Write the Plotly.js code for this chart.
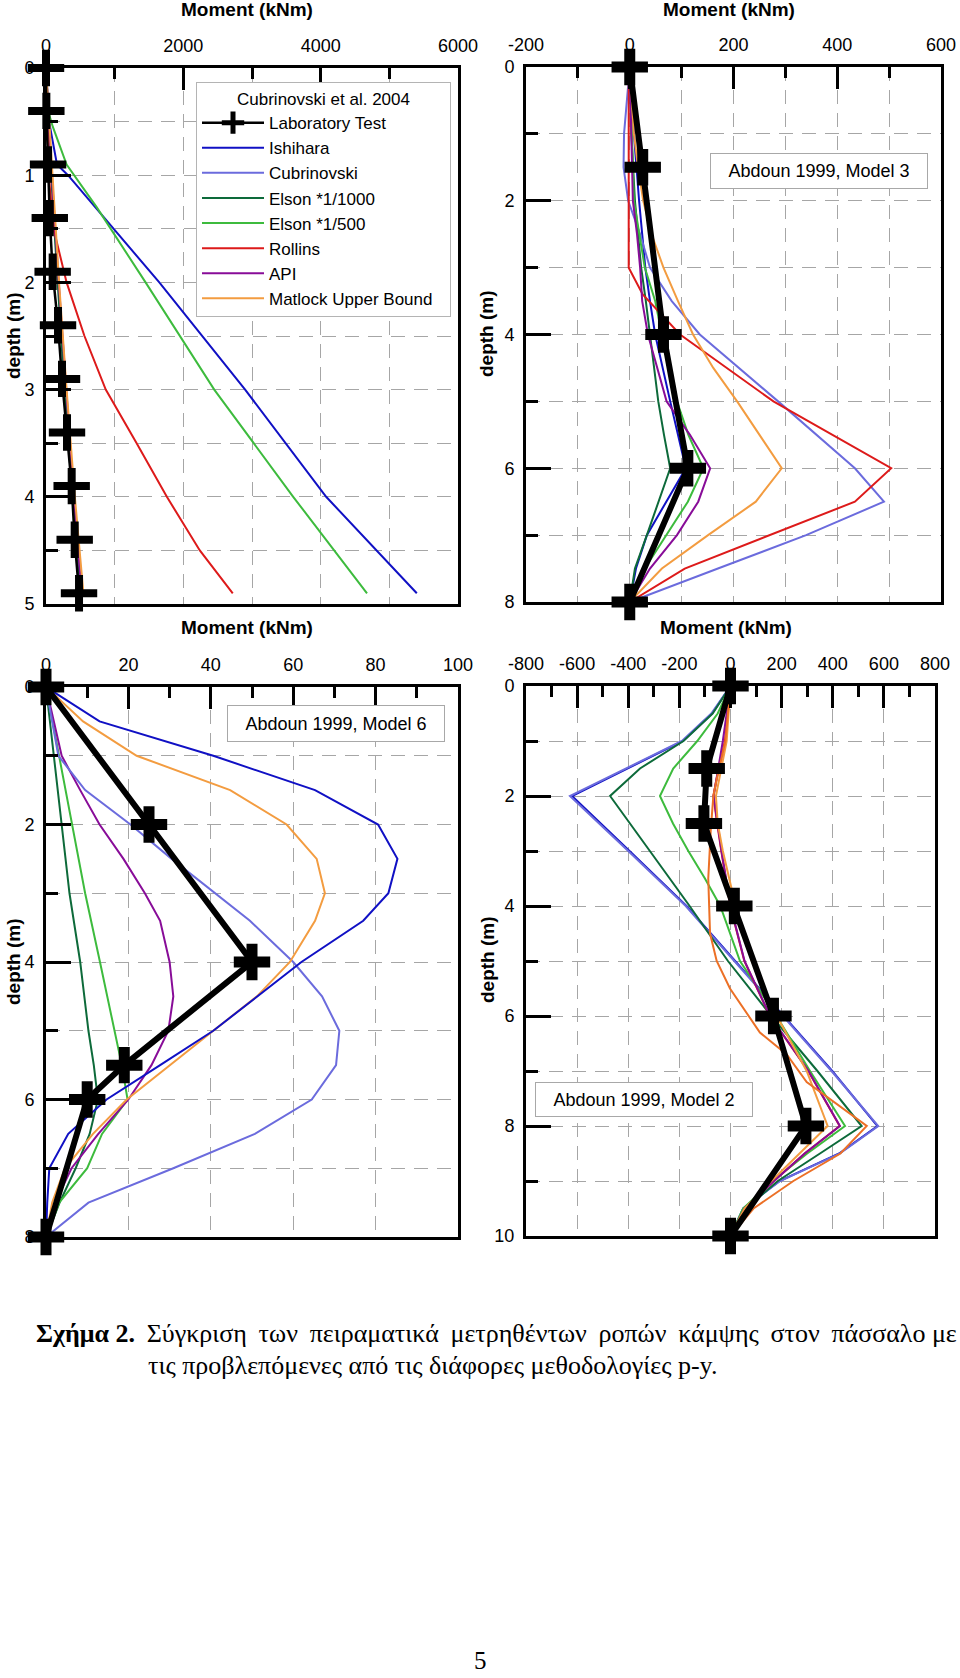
<!DOCTYPE html>
<html>
<head>
<meta charset="utf-8">
<script src="https://cdn.plot.ly/plotly-3.0.1.min.js"></script>
<style>html,body{margin:0;padding:0;background:#fff;}#chart{width:960px;height:1678px;}</style>
</head>
<body>
<div id="chart"></div>
<script>
// ---------------- DATA ----------------
const seriesNames = ["Laboratory Test","Ishihara","Cubrinovski","Elson *1/1000","Elson *1/500","Rollins","API","Matlock Upper Bound"];
const panelTitles = ["Cubrinovski et al. 2004","Abdoun 1999, Model 3","Abdoun 1999, Model 6","Abdoun 1999, Model 2"];

// Panel 1 : Cubrinovski et al. 2004  (depth m, moment kNm)
const p1LabDepth  = [0,0.4,0.9,1.4,1.9,2.4,2.9,3.4,3.9,4.4,4.9];
const p1LabMom    = [0,5,30,55,97,175,233,306,374,418,481];
const p1IshDepth  = [0,0.5,0.9,1.0,2.0,3.0,4.0,4.9];
const p1IshMom    = [0,45,160,320,1650,2900,4080,5400];
const p1CubDepth  = [0,1,2,3,4,4.9];
const p1CubMom    = [0,80,180,285,395,505];
const p1E1000Depth= [0,1,2,3,4,4.9];
const p1E1000Mom  = [0,75,170,270,385,495];
const p1E500Depth = [0,0.4,0.55,0.9,1.3,2.0,3.0,4.0,4.9];
const p1E500Mom   = [0,30,100,300,740,1450,2450,3600,4675];
const p1RolDepth  = [0,1.0,1.5,2.0,2.5,3.0,3.5,4.0,4.5,4.9];
const p1RolMom    = [0,40,110,300,560,870,1320,1760,2240,2720];
const p1ApiDepth  = [0,1,2,3,4,4.9];
const p1ApiMom    = [0,85,185,290,405,520];
const p1MatDepth  = [0,1,2,3,4,4.9];
const p1MatMom    = [0,90,190,300,420,545];

// Panel 2 : Abdoun 1999, Model 3
const p2LabDepth  = [0,1.5,4,6,8];
const p2LabMom    = [0,25,65,112,0];
const p2IshDepth  = [0,1,2,3,3.5,4,5,6,7,7.5,8];
const p2IshMom    = [0,8,18,30,39,49,78,108,33,12,0];
const p2CubDepth  = [0,1,1.5,2,2.5,3,3.5,4,5,6,6.5,7,7.5,8];
const p2CubMom    = [0,-11,-12,-3,20,39,81,135,286,434,490,340,170,0];
const p2E1000Depth= [0,1,2,3,3.5,4,5,5.5,6,7,7.5,8];
const p2E1000Mom  = [0,3,10,22,31,39,55,66,78,33,10,0];
const p2E500Depth = [0,1,2,3,3.5,4,5,5.5,6,6.5,7,7.5,8];
const p2E500Mom   = [0,4,8,29,49,62,91,113,142,112,71,29,0];
const p2RolDepth  = [0,3,3.4,4,5,6,6.5,7.5,8];
const p2RolMom    = [-2,-2,25,97,277,504,434,106,0];
const p2ApiDepth  = [0,1,2,2.5,3,3.5,4,5,5.5,6,6.5,7,7.5,8];
const p2ApiMom    = [0,3,6,14,20,24,35,71,116,155,132,91,39,0];
const p2MatDepth  = [0,1,1.5,2,2.5,3,3.5,4,4.5,5,6,6.5,7,7.5,8];
const p2MatMom    = [0,8,16,26,42,65,93,122,161,207,293,243,151,62,0];

// Panel 3 : Abdoun 1999, Model 6
const p3LabDepth  = [0,2,4,5.5,6,8];
const p3LabMom    = [0,25,50,19,10,0];
const p3IshDepth  = [0,0.5,1,1.5,2,2.5,3,3.4,4,5,5.5,6,6.5,7,7.5,8];
const p3IshMom    = [0,13,40.6,65.3,80.6,85.3,83.1,77,62,40.6,27.7,14.7,5.4,0.8,0.3,0];
const p3CubDepth  = [0,1,1.5,2,2.5,3,3.4,4,4.5,5,5.5,6,6.5,7,7.5,8];
const p3CubMom    = [0,3,9.5,20.5,30.5,41,49.5,60,67,71.2,70.4,64.5,50.7,30.9,10.3,0];
const p3E1000Depth= [0,1,2,3,4,5,5.5,6,6.5,7,7.5,8];
const p3E1000Mom  = [0,1.9,3.8,5.7,8.3,10.3,11.6,12.6,10.6,7.2,3.3,0];
const p3E500Depth = [0,1,2,3,4,5,5.5,6,6.5,7,7.5,8];
const p3E500Mom   = [0,3.2,6.3,9.5,13.1,16.7,18.4,19.8,13.6,10,3.2,0];
const p3ApiDepth  = [0,1,1.5,2,2.5,3,3.4,4,4.5,5,5.5,6,6.5,7,7.5,8];
const p3ApiMom    = [0,3.8,8.3,13,18.8,24,27.7,30,30.9,29.7,25.6,20,12.7,6.2,2.2,0];
const p3MatDepth  = [0,0.5,1,1.5,2,2.5,3,3.4,4,4.5,5,5.5,6,6.5,7,7.5,8];
const p3MatMom    = [0,9,22,44.7,58.4,65.7,67.7,65.3,59.2,51.2,40.6,30,19.6,11.4,4.6,1.5,0];

// Panel 4 : Abdoun 1999, Model 2
const p4LabDepth  = [0,1.5,2.5,4,6,8,10];
const p4LabMom    = [0,-93,-104,15,168,295,0];
const p4IshDepth  = [0,0.5,1,2,3,4,5,6,7,8,8.5,9,9.5,10];
const p4IshMom    = [0,-72,-186,-620,-395,-172,18,208,398,575,425,192,50,0];
const p4CubDepth  = [0,0.5,1,2,3,4,5,6,7,8,8.5,9,9.5,10];
const p4CubMom    = [0,-75,-190,-628,-400,-175,15,205,395,578,428,194,50,0];
const p4E1000Depth= [0,0.5,1,1.5,2,3,4,5,6,7,8,8.5,9,9.5,10];
const p4E1000Mom  = [0,-70,-184,-354,-471,-315,-160,-10,160,340,513,350,185,60,0];
const p4E500Depth = [0,0.5,1,1.5,2,2.5,3,3.5,4,5,6,7,8,8.5,9,9.5,10];
const p4E500Mom   = [0,-50,-130,-224,-276,-225,-165,-100,-40,37,180,311,448,300,165,49,0];
const p4RolDepth  = [0,1,1.7,2,2.5,3,4,5,6,7,8,8.5,9,9.5,10];
const p4RolMom    = [0,-22,-55,-67,-52,-36,-1,54,154,304,427,290,170,55,0];
const p4ApiDepth  = [0,1,2,2.5,3,4,5,6,7,8,8.5,9,9.5,10];
const p4ApiMom    = [0,-30,-66,-50,-35,0,55,155,305,428,290,170,55,0];
const p4MatDepth  = [0,1,2,2.5,3,4,5,6,7,8,8.5,9,9.5,10];
const p4MatMom    = [0,-15,-57,-50,-30,20,83,181,298,380,270,160,55,0];
const p4OrangeDepth=[0,1,1.7,2,2.6,3.5,4.5,5,5.5,6,6.3,6.7,7.2,8,8.5,9,9.5,10];
const p4OrangeMom = [0,-20,-54,-67,-77,-87,-80,-54,-2,70,115,220,298,533,430,246,90,0];

// Axis ticks
const p1XTicks = [0,2000,4000,6000];
const p1YTicks = [0,1,2,3,4,5];
const p2XTicks = [-200,0,200,400,600];
const p2YTicks = [0,2,4,6,8];
const p3XTicks = [0,20,40,60,80,100];
const p3YTicks = [0,2,4,6,8];
const p4XTicks = [-800,-600,-400,-200,0,200,400,600,800];
const p4YTicks = [0,2,4,6,8,10];

// Caption text
const captionBold  = "Σχήμα 2.";
const captionLine1 = "Σύγκριση των πειραματικά μετρηθέντων ροπών κάμψης στον πάσσαλο με";
const captionLine2 = "τις προβλεπόμενες από τις διάφορες μεθοδολογίες p-y.";
const pageNumber = "5";

// ---------------- STYLE ----------------
const W = 960, H = 1678;
const fx = p => p / W;
const fy = p => 1 - p / H;
const SANS = 'Liberation Sans, Arial, sans-serif';
const SERIF = 'Liberation Serif, Times New Roman, serif';
const colors = {
  "Ishihara":"#1010C4","Cubrinovski":"#6B6BDD","Elson *1/1000":"#0D6A3A","Elson *1/500":"#3DBB3D",
  "Rollins":"#DD1A1A","API":"#880C98","Matlock Upper Bound":"#F39C40"
};
const GRID = '#A6A6A6';

const panels = [
  {xa:'x', ya:'y', labW:2.5, crossW:8,
   lab:[p1LabDepth,p1LabMom],
   curves:[["Ishihara",p1IshDepth,p1IshMom],["Cubrinovski",p1CubDepth,p1CubMom],["Elson *1/1000",p1E1000Depth,p1E1000Mom],
           ["Elson *1/500",p1E500Depth,p1E500Mom],["Rollins",p1RolDepth,p1RolMom],["API",p1ApiDepth,p1ApiMom],["Matlock Upper Bound",p1MatDepth,p1MatMom]]},
  {xa:'x2', ya:'y2', labW:6, crossW:11,
   lab:[p2LabDepth,p2LabMom],
   curves:[["Ishihara",p2IshDepth,p2IshMom],["Cubrinovski",p2CubDepth,p2CubMom],["Elson *1/1000",p2E1000Depth,p2E1000Mom],
           ["Elson *1/500",p2E500Depth,p2E500Mom],["Rollins",p2RolDepth,p2RolMom],["API",p2ApiDepth,p2ApiMom],["Matlock Upper Bound",p2MatDepth,p2MatMom]]},
  {xa:'x3', ya:'y3', labW:6, crossW:11,
   lab:[p3LabDepth,p3LabMom],
   curves:[["Elson *1/1000",p3E1000Depth,p3E1000Mom],["Elson *1/500",p3E500Depth,p3E500Mom],
           ["API",p3ApiDepth,p3ApiMom],["Cubrinovski",p3CubDepth,p3CubMom],["Matlock Upper Bound",p3MatDepth,p3MatMom],["Ishihara",p3IshDepth,p3IshMom]]},
  {xa:'x4', ya:'y4', labW:6, crossW:11,
   lab:[p4LabDepth,p4LabMom],
   curves:[["Ishihara",p4IshDepth,p4IshMom],["Cubrinovski",p4CubDepth,p4CubMom],["Elson *1/1000",p4E1000Depth,p4E1000Mom],
           ["Elson *1/500",p4E500Depth,p4E500Mom],["Rollins",p4RolDepth,p4RolMom],["API",p4ApiDepth,p4ApiMom],
           ["Matlock Upper Bound",p4MatDepth,p4MatMom],["p-y (orange, Model 2)",p4OrangeDepth,p4OrangeMom,"#EC7026"]]}
];

const traces = [];
panels.forEach((p, i) => {
  p.curves.forEach(c => {
    const name = c[0];
    traces.push({
      type:'scatter', mode:'lines', x:c[2], y:c[1], xaxis:p.xa, yaxis:p.ya, name:name,
      line:{color:c[3] || colors[name], width:2},
      showlegend: i === 0, legendrank: seriesNames.indexOf(name) + 1, hoverinfo:'skip'
    });
  });
  traces.push({
    type:'scatter', mode:'lines+markers', x:p.lab[1], y:p.lab[0], xaxis:p.xa, yaxis:p.ya, name:seriesNames[0],
    line:{color:'black', width:p.labW},
    marker:{symbol:'cross-thin-open', size:26, color:'black', line:{color:'black', width:p.crossW}},
    showlegend: i === 0, legendrank: 1, cliponaxis:false, hoverinfo:'skip'
  });
});

function xAxis(dom, range, ticks, minorD, minorGrid, anchor) {
  return {
    domain:dom, range:range, side:'top', anchor:anchor,
    tickmode:'array', tickvals:ticks, ticktext:ticks.map(v => String(v)),
    ticks:'inside', ticklen:22, tickwidth:3, tickcolor:'black', ticklabelstandoff:6,
    tickfont:{family:SANS, size:18, color:'black'},
    showline:true, linecolor:'black', linewidth:3, mirror:true, zeroline:false,
    showgrid:true, gridcolor:GRID, gridwidth:1, griddash:'14px,9px',
    minor:{dtick:minorD, tick0:0, ticks:'inside', ticklen:11, tickwidth:3, tickcolor:'black',
           showgrid:minorGrid, gridcolor:GRID, gridwidth:1, griddash:'14px,9px'},
    fixedrange:true
  };
}
function yAxis(dom, range, ticks, minorD, anchor) {
  return {
    domain:dom, range:range, anchor:anchor,
    tickmode:'array', tickvals:ticks, ticktext:ticks.map(v => String(v)),
    ticks:'inside', ticklen:25, tickwidth:3, tickcolor:'black', ticklabelstandoff:5,
    tickfont:{family:SANS, size:18, color:'black'},
    showline:true, linecolor:'black', linewidth:3, mirror:true, zeroline:false,
    showgrid:true, gridcolor:GRID, gridwidth:1, griddash:'14px,9px',
    minor:{dtick:minorD, tick0:0, ticks:'inside', ticklen:12, tickwidth:3, tickcolor:'black',
           showgrid:true, gridcolor:GRID, gridwidth:1, griddash:'14px,9px'},
    fixedrange:true
  };
}

const annotations = [];
function titleAnn(text, x, y, angle) {
  annotations.push({text:'<b>'+text+'</b>', x:fx(x), y:fy(y), xref:'paper', yref:'paper',
    xanchor:'center', yanchor:'middle', showarrow:false, textangle:angle || 0,
    font:{family:SANS, size:19, color:'black'}});
}
titleAnn('Moment (kNm)', 247, 10);
titleAnn('Moment (kNm)', 729, 10);
titleAnn('Moment (kNm)', 247, 628);
titleAnn('Moment (kNm)', 726, 627);
titleAnn('depth (m)', 13, 336, -90);
titleAnn('depth (m)', 487, 334, -90);
titleAnn('depth (m)', 13, 962, -90);
titleAnn('depth (m)', 487, 960, -90);

function boxAnn(text, cx, cy, w, h) {
  annotations.push({text:text, x:fx(cx), y:fy(cy), xref:'paper', yref:'paper',
    xanchor:'center', yanchor:'middle', showarrow:false, width:w, height:h, align:'center', valign:'middle',
    bgcolor:'white', bordercolor:'#A8A8A8', borderwidth:1, borderpad:0,
    font:{family:SANS, size:18, color:'black'}});
}
boxAnn(panelTitles[1], 819, 171, 216, 34);
boxAnn(panelTitles[2], 336, 723, 216, 35);
boxAnn(panelTitles[3], 644, 1099, 216, 33);

// justified first caption line: widen most word gaps slightly with a thin space
const line1Words = captionLine1.split(' ');
const line1Justified = line1Words.map((w, k) => (k < line1Words.length - 1 ? w + (k < 7 ? ' \u2009' : ' ') : w)).join('');
annotations.push({text:'<b>' + captionBold + '</b> \u2009' + line1Justified,
  x:fx(34), y:fy(1333), xref:'paper', yref:'paper', xanchor:'left', yanchor:'middle', showarrow:false,
  font:{family:SERIF, size:26, color:'black'}});
annotations.push({text:captionLine2,
  x:fx(146), y:fy(1365), xref:'paper', yref:'paper', xanchor:'left', yanchor:'middle', showarrow:false,
  font:{family:SERIF, size:26, color:'black'}});
annotations.push({text:pageNumber, x:fx(480), y:fy(1660), xref:'paper', yref:'paper', xanchor:'center', yanchor:'middle',
  showarrow:false, font:{family:SERIF, size:25, color:'black'}});

const pad = '\u00A0'.repeat(8);
const layout = {
  width:W, height:H, margin:{l:0, r:0, t:0, b:0}, paper_bgcolor:'white', plot_bgcolor:'rgba(0,0,0,0)',
  font:{family:SANS, color:'black'},
  showlegend:true,
  legend:{x:fx(196), y:fy(82), xanchor:'left', yanchor:'top', bgcolor:'white', bordercolor:'#B4B4B4', borderwidth:1,
    font:{family:SANS, size:17, color:'black'}, itemwidth:62, traceorder:'normal',
    title:{text:pad + panelTitles[0] + pad, side:'top center', font:{family:SANS, size:17, color:'black'}}},
  xaxis: xAxis([fx(46), fx(458)], [0,6000], p1XTicks, 1000, true, 'y'),
  yaxis: yAxis([fy(604), fy(68)], [5,0], p1YTicks, 0.5, 'x'),
  xaxis2: xAxis([fx(526), fx(941)], [-200,600], p2XTicks, 100, true, 'y2'),
  yaxis2: yAxis([fy(602), fy(67)], [8,0], p2YTicks, 1, 'x2'),
  xaxis3: xAxis([fx(46), fx(458)], [0,100], p3XTicks, 10, false, 'y3'),
  yaxis3: yAxis([fy(1237), fy(687)], [8,0], p3YTicks, 1, 'x3'),
  xaxis4: xAxis([fx(526), fx(935)], [-800,800], p4XTicks, 100, false, 'y4'),
  yaxis4: yAxis([fy(1236), fy(686)], [10,0], p4YTicks, 1, 'x4'),
  annotations:annotations
};

Plotly.newPlot('chart', traces, layout, {staticPlot:true, displayModeBar:false});
</script>
</body>
</html>
